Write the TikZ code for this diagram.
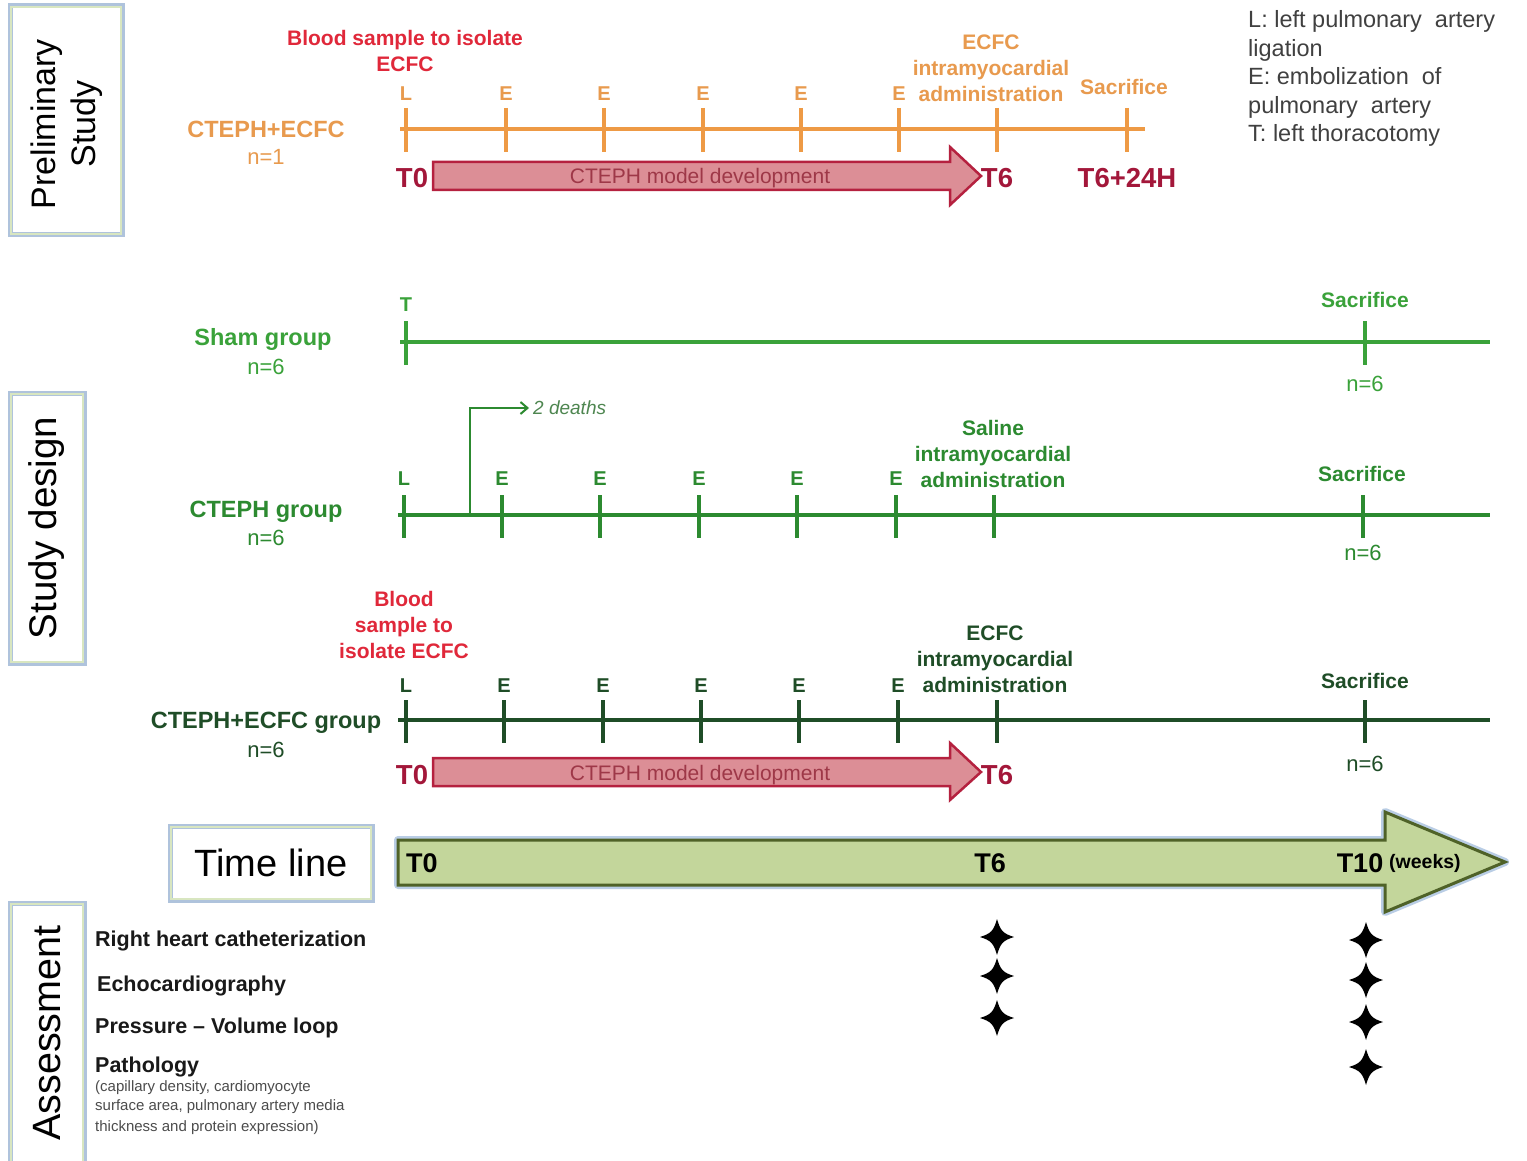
\documentclass[tikz,border=0pt]{standalone}
\usepackage{fontspec}
\setmainfont{Liberation Sans}
\usetikzlibrary{arrows.meta}
\definecolor{orangeL}{HTML}{EE9A45}
\definecolor{orangeT}{HTML}{E89A4E}
\definecolor{redT}{HTML}{E0283A}
\definecolor{darkred}{HTML}{A3173A}
\definecolor{arrowfill}{HTML}{DC8E96}
\definecolor{arrowdraw}{HTML}{B5213F}
\definecolor{arrowtext}{HTML}{9E3848}
\definecolor{greenA}{HTML}{3AA23A}
\definecolor{greenB}{HTML}{2C8A30}
\definecolor{greenC}{HTML}{1F4D27}
\definecolor{tlfill}{HTML}{C3D69B}
\definecolor{tldraw}{HTML}{4F6228}
\definecolor{glow}{HTML}{B9CDE5}
\definecolor{boxblue}{HTML}{AFC3DC}
\definecolor{boxgreen}{HTML}{D8E6C0}
\definecolor{legendgray}{HTML}{404040}
\tikzset{
 grp/.style={inner sep=0pt, anchor=base, font=\bfseries\fontsize{23.5}{28}\selectfont},
 nval/.style={inner sep=0pt, anchor=base, font=\fontsize{22}{26}\selectfont},
 ev/.style={inner sep=0pt, anchor=base, font=\bfseries\fontsize{20}{24}\selectfont},
 ann/.style={inner sep=0pt, anchor=base, font=\bfseries\fontsize{21}{25}\selectfont},
 tlab/.style={inner sep=0pt, anchor=base, font=\bfseries\fontsize{27.5}{32}\selectfont, text=darkred},
 tltext/.style={inner sep=0pt, anchor=base, font=\bfseries\fontsize{27}{32}\selectfont, text=black},
 leg/.style={inner sep=0pt, anchor=base west, font=\fontsize{23.5}{28}\selectfont, text=legendgray},
 assess/.style={inner sep=0pt, anchor=base west, font=\bfseries\fontsize{21.5}{26}\selectfont, text=black!90},
 smalltxt/.style={inner sep=0pt, anchor=base west, font=\fontsize{15}{18}\selectfont, text=black!70},
 sidetext/.style={inner sep=0pt, rotate=90, align=center},
 sidebox/.style={draw=boxblue, line width=5, fill=white, inner sep=0pt},
 innerline/.style={draw=boxgreen, line width=1.5},
 devarrow/.style={draw=arrowdraw, fill=arrowfill, line width=2.5, line join=miter},
 devtext/.style={inner sep=0pt, anchor=base, font=\fontsize{21}{25}\selectfont, text=arrowtext},
 star4/.pic={\fill[black] (0,-18) .. controls (3.5,-6) and (6,-3.5) .. (17,0)
   .. controls (6,3.5) and (3.5,6) .. (0,18)
   .. controls (-3.5,6) and (-6,3.5) .. (-17,0)
   .. controls (-6,-3.5) and (-3.5,-6) .. (0,-18) -- cycle;}
}
\begin{document}
\begin{tikzpicture}[x=1pt,y=-1pt]
\useasboundingbox[fill=white] (0,0) rectangle (1527,1161);

% ---------- side boxes ----------
\node[sidebox, minimum width=112, minimum height=229] (pbox) at (66,120.5) {};
\draw[innerline] ([xshift=3.5pt,yshift=-3.5pt]pbox.north west) rectangle ([xshift=-3.5pt,yshift=3.5pt]pbox.south east);
\node[sidetext, font=\fontsize{34}{40}\selectfont] (ptext) at (67,124) {Preliminary\\Study};

\node[sidebox, minimum width=74, minimum height=270] (sbox) at (47,528) {};
\draw[innerline] ([xshift=3.5pt,yshift=-3.5pt]sbox.north west) rectangle ([xshift=-3.5pt,yshift=3.5pt]sbox.south east);
\node[sidetext, font=\fontsize{38.5}{44}\selectfont] (stext) at (47,528) {Study design};

\node[sidebox, minimum width=74, minimum height=272] (abox) at (47,1039) {};
\draw[innerline] ([xshift=3.5pt,yshift=-3.5pt]abox.north west) rectangle ([xshift=-3.5pt,yshift=3.5pt]abox.south east);
\node[sidetext, font=\fontsize{39.5}{44}\selectfont] (atext) at (47,1033) {Assessment};

\node[sidebox, minimum width=202, minimum height=74] (tbox) at (271,863) {};
\draw[innerline] ([xshift=3.5pt,yshift=-3.5pt]tbox.north west) rectangle ([xshift=-3.5pt,yshift=3.5pt]tbox.south east);
\node[inner sep=0pt, font=\fontsize{38}{42}\selectfont] (ttext) at (271,863) {Time line};

% ---------- preliminary timeline ----------
\draw[orangeL, line width=4] (400,129) -- (1145,129);
\foreach \x in {406,506,604,703,801,899,997,1127} \draw[orangeL, line width=4] (\x,108) -- (\x,152);
\node[ann, text=redT] (pblood1) at (405,46) {Blood sample to isolate};
\node[ann, text=redT] (pblood2) at (405,72) {ECFC};
\node[ev, text=orangeT] (pL) at (406,101) {L};
\foreach \x [count=\i] in {506,604,703,801,899} \node[ev, text=orangeT] (pE\i) at (\x,101) {E};
\node[ann, text=orangeT] (pecfc1) at (991,50) {ECFC};
\node[ann, text=orangeT] (pecfc2) at (991,76) {intramyocardial};
\node[ann, text=orangeT] (pecfc3) at (991,102) {administration};
\node[ann, text=orangeT] (psac) at (1124,95) {Sacrifice};
\node[grp, text=orangeT] (pgrp) at (266,138) {CTEPH+ECFC};
\node[nval, text=orangeT] (pn) at (266,165) {n=1};
\draw[devarrow] (433,162) -- (950,162) -- (950,147) -- (981,176) -- (950,205) -- (950,190) -- (433,190) -- cycle;
\node[devtext] (pdev) at (700,184) {CTEPH model development};
\node[tlab] (pT0) at (412,188) {T0};
\node[tlab] (pT6) at (997,188) {T6};
\node[tlab] (pT624) at (1127,188) {T6+24H};

% ---------- legend ----------
\node[leg] (leg1) at (1248,28) {L: left pulmonary\ \ artery};
\node[leg] (leg2) at (1248,57) {ligation};
\node[leg] (leg3) at (1248,85) {E: embolization\ \ of};
\node[leg] (leg4) at (1248,114) {pulmonary\ \ artery};
\node[leg] (leg5) at (1248,142) {T: left thoracotomy};

% ---------- sham group ----------
\draw[greenA, line width=4] (400,342) -- (1490,342);
\foreach \x in {406,1365} \draw[greenA, line width=4] (\x,321) -- (\x,365);
\node[ev, text=greenA] (sT) at (406,312) {T};
\node[ann, text=greenA] (ssac) at (1365,308) {Sacrifice};
\node[nval, text=greenA] (sn2) at (1365,391) {n=6};
\node[grp, text=greenA] (sgrp) at (263,345) {Sham group};
\node[nval, text=greenA] (sn) at (266,374) {n=6};

% ---------- CTEPH group ----------
\draw[greenB, line width=4] (398,515) -- (1490,515);
\foreach \x in {404,502,600,699,797,896,994,1363} \draw[greenB, line width=4] (\x,495) -- (\x,538);
\node[ev, text=greenB] (cL) at (404,485) {L};
\foreach \x [count=\i] in {502,600,699,797,896} \node[ev, text=greenB] (cE\i) at (\x,485) {E};
\node[ann, text=greenB] (csal1) at (993,435) {Saline};
\node[ann, text=greenB] (csal2) at (993,461) {intramyocardial};
\node[ann, text=greenB] (csal3) at (993,487) {administration};
\node[ann, text=greenB] (csac) at (1362,481) {Sacrifice};
\node[nval, text=greenB] (cn2) at (1363,560) {n=6};
\node[grp, text=greenB] (cgrp) at (266,517) {CTEPH group};
\node[nval, text=greenB] (cn) at (266,545) {n=6};
\coordinate (dstart) at (470,515);
\node[inner sep=0pt, anchor=west, font=\itshape\fontsize{19}{23}\selectfont, text=greenB!60!gray] (deaths) at (533,408) {2 deaths};
\draw[greenB, line width=2.5, -{Straight Barb[length=7pt,width=12pt,line width=2pt]}] (dstart) |- ([xshift=-4pt]deaths.west);

% ---------- CTEPH+ECFC group ----------
\draw[greenC, line width=4] (398,720) -- (1490,720);
\foreach \x in {406,504,603,701,799,898,997,1365} \draw[greenC, line width=4] (\x,700) -- (\x,743);
\node[ann, text=redT] (eb1) at (404,606) {Blood};
\node[ann, text=redT] (eb2) at (404,632) {sample to};
\node[ann, text=redT] (eb3) at (404,658) {isolate ECFC};
\node[ev, text=greenC] (eL) at (406,692) {L};
\foreach \x [count=\i] in {504,603,701,799,898} \node[ev, text=greenC] (eE\i) at (\x,692) {E};
\node[ann, text=greenC] (ee1) at (995,640) {ECFC};
\node[ann, text=greenC] (ee2) at (995,666) {intramyocardial};
\node[ann, text=greenC] (ee3) at (995,692) {administration};
\node[ann, text=greenC] (esac) at (1365,688) {Sacrifice};
\node[nval, text=greenC] (en2) at (1365,771) {n=6};
\node[grp, text=greenC] (egrp) at (266,728) {CTEPH+ECFC group};
\node[nval, text=greenC] (en) at (266,757) {n=6};
\draw[devarrow] (433,758) -- (950,758) -- (950,743) -- (981,772) -- (950,800) -- (950,786) -- (433,786) -- cycle;
\node[devtext] (edev) at (700,780) {CTEPH model development};
\node[tlab] (eT0) at (412,784) {T0};
\node[tlab] (eT6) at (997,784) {T6};

% ---------- time line arrow ----------
\draw[glow, line width=8, line join=round] (398,840) -- (1385,840) -- (1385,812) -- (1505,862) -- (1385,912) -- (1385,885) -- (398,885) -- cycle;
\draw[draw=tldraw, fill=tlfill, line width=3, line join=miter] (398,840) -- (1385,840) -- (1385,812) -- (1505,862) -- (1385,912) -- (1385,885) -- (398,885) -- cycle;
\node[tltext] (tT0) at (422,872) {T0};
\node[tltext] (tT6) at (990,872) {T6};
\node[tltext] (tT10) at (1360,872) {T10};
\node[inner sep=0pt, anchor=base west, font=\bfseries\fontsize{19.5}{22}\selectfont] (tweeks) at (1389,868) {(weeks)};

% ---------- assessment ----------
\node[assess] (a1) at (95,946) {Right heart catheterization};
\node[assess] (a2) at (97,991) {Echocardiography};
\node[assess] (a3) at (95,1033) {Pressure -- Volume loop};
\node[assess] (a4) at (95,1072) {Pathology};
\node[smalltxt] (a5) at (95,1091) {(capillary density, cardiomyocyte};
\node[smalltxt] (a6) at (95,1110) {surface area, pulmonary artery media};
\node[smalltxt] (a7) at (95,1131) {thickness and protein expression)};

\foreach \y in {937,976,1018} \pic at (997,\y) {star4};
\foreach \y in {940,980,1022,1067} \pic at (1366,\y) {star4};
\end{tikzpicture}
\end{document}
